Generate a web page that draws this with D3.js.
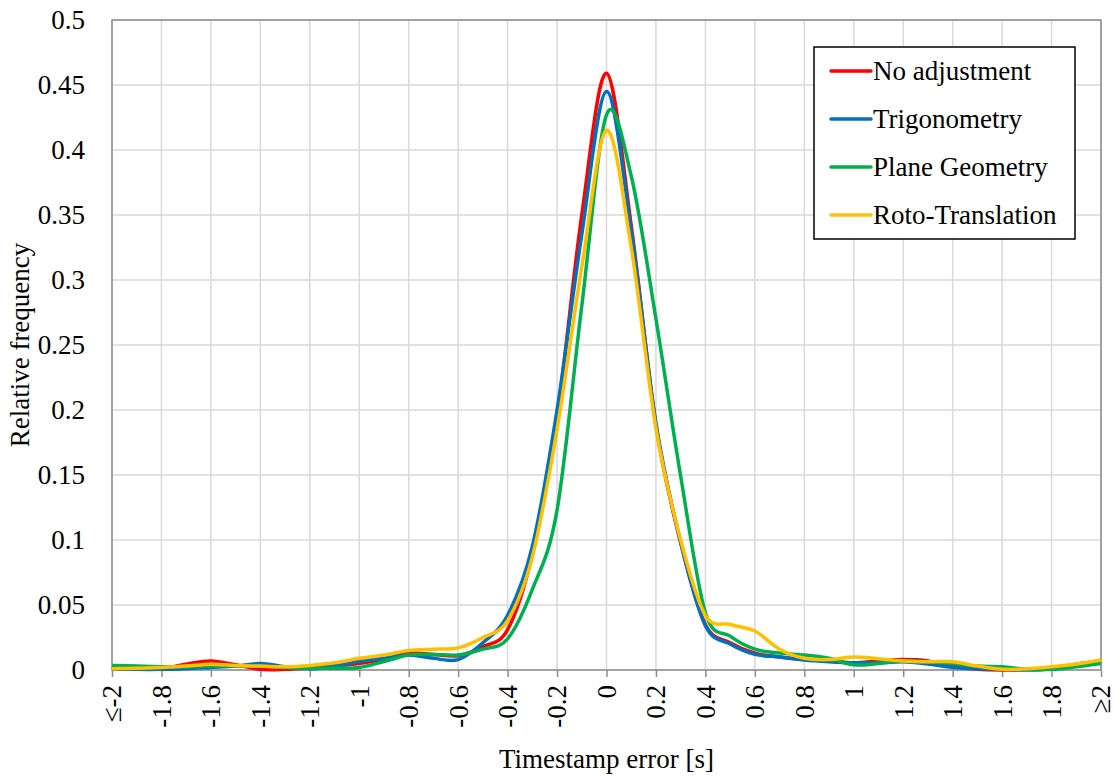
<!DOCTYPE html>
<html>
<head>
<meta charset="utf-8">
<script src="https://cdn.jsdelivr.net/npm/d3@7"></script>
<style>
  body { margin: 0; background: #fff; }
  svg { display: block; }
  svg text { font-family: "Liberation Serif", "Times New Roman", serif; }
</style>
</head>
<body>
<svg id="chart" width="1118" height="776"></svg>
<script>
// Timestamp error bins [s]
const bins = [
  -2, -1.9, -1.8, -1.7, -1.6, -1.5, -1.4, -1.3, -1.2, -1.1,
  -1, -0.9, -0.8, -0.7, -0.6, -0.5, -0.4, -0.3, -0.2, -0.1,
  0, 0.1, 0.2, 0.3, 0.4, 0.5, 0.6, 0.7, 0.8, 0.9,
  1, 1.1, 1.2, 1.3, 1.4, 1.5, 1.6, 1.7, 1.8, 1.9, 2,
];

const noAdjustment = [
  0.001, 0.0005, 0.001, 0.0045, 0.007, 0.004, 0.0005, 0.0005, 0.0015, 0.003,
  0.005, 0.008, 0.013, 0.012, 0.011, 0.018, 0.031, 0.089, 0.195, 0.35,
  0.459, 0.342, 0.188, 0.098, 0.035, 0.021, 0.013, 0.01, 0.008, 0.007,
  0.0056, 0.007, 0.008, 0.007, 0.003, 0.0005, 0, 0.0005, 0.0015, 0.0045, 0.007,
];

const trigonometry = [
  0.001, 0.0005, 0.0005, 0.001, 0.002, 0.003, 0.005, 0.0025, 0.001, 0.003,
  0.0065, 0.009, 0.0115, 0.009, 0.008, 0.021, 0.042, 0.095, 0.2, 0.335,
  0.445, 0.338, 0.19, 0.098, 0.034, 0.02, 0.012, 0.01, 0.0077, 0.0064,
  0.0056, 0.0056, 0.0064, 0.0046, 0.002, 0.001, 0.0005, 0, 0.001, 0.004, 0.0064,
];

const planeGeometry = [
  0.0035, 0.003, 0.0025, 0.0025, 0.003, 0.003, 0.003, 0.002, 0.0015, 0.0013,
  0.002, 0.0065, 0.0115, 0.012, 0.0115, 0.016, 0.024, 0.062, 0.123, 0.28,
  0.427, 0.38, 0.27, 0.149, 0.044, 0.026, 0.016, 0.013, 0.0115, 0.009,
  0.004, 0.005, 0.007, 0.0064, 0.005, 0.003, 0.0025, 0.0005, 0.0005, 0.0025, 0.005,
];

const rotoTranslation = [
  0.001, 0.0013, 0.002, 0.003, 0.0045, 0.0035, 0.003, 0.0025, 0.0035, 0.0055,
  0.009, 0.0115, 0.015, 0.016, 0.017, 0.025, 0.038, 0.087, 0.185, 0.31,
  0.415, 0.325, 0.186, 0.1, 0.042, 0.035, 0.03, 0.016, 0.009, 0.008,
  0.01, 0.0087, 0.007, 0.0064, 0.0064, 0.003, 0.0005, 0.001, 0.0025, 0.0046, 0.0077,
];

const seriesNames = ["No adjustment", "Trigonometry", "Plane Geometry", "Roto-Translation"];
const seriesColors = ["#FF0000", "#0070C0", "#00B050", "#FFC000"];
const seriesValues = [noAdjustment, trigonometry, planeGeometry, rotoTranslation];

// Labelled ticks on the x axis (every 0.2 s)
const xTicks = [-2, -1.8, -1.6, -1.4, -1.2, -1, -0.8, -0.6, -0.4, -0.2, 0, 0.2, 0.4, 0.6, 0.8, 1, 1.2, 1.4, 1.6, 1.8, 2];
const yTicks = [0, 0.05, 0.1, 0.15, 0.2, 0.25, 0.3, 0.35, 0.4, 0.45, 0.5];

const margin = { top: 20, right: 17, bottom: 106, left: 112 };
const width = 1118;
const height = 776;
const fontSize = 27;

const svg = d3.select("#chart");

const x = d3.scaleLinear().domain([-2, 2]).range([margin.left, width - margin.right]);
const y = d3.scaleLinear().domain([0, 0.5]).range([height - margin.bottom, margin.top]);

// Gridlines
svg.append("g")
  .selectAll("line")
  .data(yTicks)
  .join("line")
  .attr("x1", x(-2))
  .attr("x2", x(2))
  .attr("y1", (d) => y(d))
  .attr("y2", (d) => y(d))
  .attr("stroke", "#d9d9d9")
  .attr("stroke-width", 1.5);

svg.append("g")
  .selectAll("line")
  .data(xTicks)
  .join("line")
  .attr("x1", (d) => x(d))
  .attr("x2", (d) => x(d))
  .attr("y1", y(0))
  .attr("y2", y(0.5))
  .attr("stroke", "#d9d9d9")
  .attr("stroke-width", 1.5);

// Plot area border
svg.append("rect")
  .attr("x", x(-2))
  .attr("y", y(0.5))
  .attr("width", x(2) - x(-2))
  .attr("height", y(0) - y(0.5))
  .attr("fill", "none")
  .attr("stroke", "#8c8c8c")
  .attr("stroke-width", 1.5);

// Y axis
const yAxis = svg.append("g")
  .attr("transform", `translate(${margin.left},0)`)
  .call(d3.axisLeft(y).tickValues(yTicks).tickSize(0).tickPadding(27).tickFormat((d) => String(+d.toFixed(2))));
yAxis.attr("font-family", null).attr("font-size", fontSize);
yAxis.select(".domain").remove();
yAxis.selectAll("text").attr("fill", "#000");

// X axis
const xFormat = (d) => (d === -2 ? "≤-2" : d === 2 ? "≥2" : String(+d.toFixed(1)));
const xAxis = svg.append("g")
  .attr("transform", `translate(0,${y(0)})`)
  .call(d3.axisBottom(x).tickValues(xTicks).tickSize(7).tickFormat(xFormat));
xAxis.attr("font-family", null).attr("font-size", fontSize);
xAxis.select(".domain").remove();
xAxis.selectAll(".tick line").attr("stroke", "#8c8c8c").attr("stroke-width", 1.5);
xAxis.selectAll("text")
  .attr("fill", "#000")
  .attr("transform", "rotate(-90)")
  .attr("x", -15)
  .attr("y", 0)
  .attr("dy", "0.33em")
  .style("text-anchor", "end");

// Axis titles
svg.append("text")
  .attr("x", x(0))
  .attr("y", 768)
  .attr("text-anchor", "middle")
  .attr("font-size", fontSize)
  .text("Timestamp error [s]");

svg.append("text")
  .attr("transform", `translate(29,${y(0.25)}) rotate(-90)`)
  .attr("text-anchor", "middle")
  .attr("font-size", fontSize)
  .text("Relative frequency");

// Series lines (smoothed like the spreadsheet original)
const line = d3.line()
  .x((d) => x(d[0]))
  .y((d) => y(d[1]))
  .curve(d3.curveCatmullRom.alpha(0));

seriesValues.forEach((values, i) => {
  svg.append("path")
    .datum(bins.map((b, j) => [b, values[j]]))
    .attr("fill", "none")
    .attr("stroke", seriesColors[i])
    .attr("stroke-width", 3.5)
    .attr("stroke-linejoin", "round")
    .attr("d", line);
});

// Legend
const legend = svg.append("g").attr("transform", "translate(814,47)");
legend.append("rect")
  .attr("width", 261)
  .attr("height", 192)
  .attr("fill", "#fff")
  .attr("stroke", "#000")
  .attr("stroke-width", 1.5);

seriesNames.forEach((name, i) => {
  const row = legend.append("g").attr("transform", `translate(0,${24 + i * 48})`);
  row.append("line")
    .attr("x1", 17)
    .attr("x2", 57)
    .attr("stroke", seriesColors[i])
    .attr("stroke-width", 3.5)
    .attr("stroke-linecap", "round");
  row.append("text")
    .attr("x", 59)
    .attr("dy", "0.33em")
    .attr("font-size", fontSize)
    .text(name);
});
</script>
</body>
</html>
